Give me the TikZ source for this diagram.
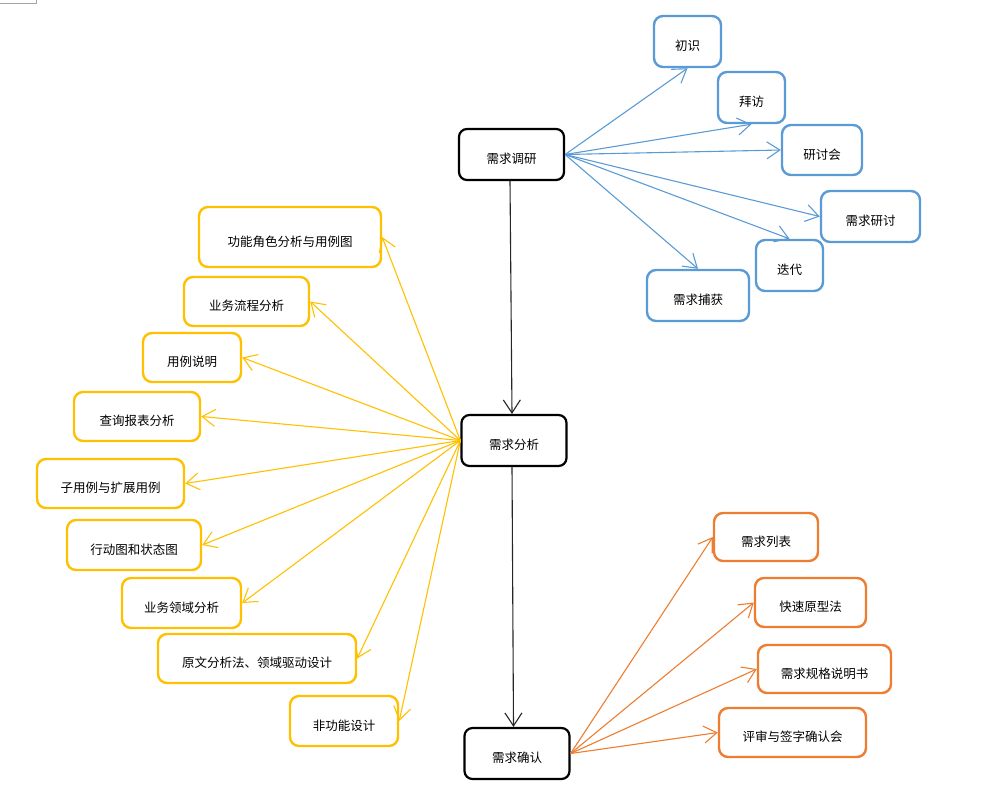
\documentclass[tikz,border=0pt]{standalone}
\usepackage{fontspec}
\setmainfont{Noto Sans CJK SC}
\usetikzlibrary{arrows.meta}
\definecolor{cblue}{HTML}{5B9BD5}
\definecolor{cyel}{HTML}{FFC000}
\definecolor{corg}{HTML}{ED7D31}
\tikzset{
  box/.style={draw, fill=white, rounded corners=9pt, inner sep=0pt,
    font=\fontsize{12.5}{15}\selectfont, text height=18.5pt, text depth=0pt},
  bbox/.style={box, line width=2.2pt, draw=black, rounded corners=8pt, minimum width=105pt, minimum height=51pt},
  bluebox/.style={box, line width=2.4pt, draw=cblue},
  yelbox/.style={box, line width=2.4pt, draw=cyel},
  orgbox/.style={box, line width=2.4pt, draw=corg},
  arr/.style={-{Straight Barb[length=13pt,width=17pt]}, line width=1.1pt},
  barr/.style={arr, draw=black!85},
  bluearr/.style={arr, draw=cblue},
  yelarr/.style={arr, draw=cyel},
  orgarr/.style={arr, draw=corg},
}
\begin{document}
\begin{tikzpicture}[x=1pt,y=-1pt]
\useasboundingbox (0,0) rectangle (1000,807);
\draw[gray!70, line width=1pt] (0,3) -- (36,3) -- (36,0);

% main nodes
\node[bbox] (dy) at (511.5,154.5) {需求调研};
\node[bbox] (fx) at (514,440.5) {需求分析};
\node[bbox] (qr) at (517,753.5) {需求确认};

% blue
\node[bluebox, minimum width=67pt, minimum height=51pt] (cs) at (687.5,41.5) {初识};
\node[bluebox, minimum width=67pt, minimum height=51pt] (bf) at (751.5,97.5) {拜访};
\node[bluebox, minimum width=80pt, minimum height=50pt] (yth) at (822,150) {研讨会};
\node[bluebox, minimum width=99pt, minimum height=51pt] (xqyt) at (870.5,216.5) {需求研讨};
\node[bluebox, minimum width=67pt, minimum height=51pt] (dd) at (789.5,265.5) {迭代};
\node[bluebox, minimum width=102pt, minimum height=51pt] (bh) at (698,295.5) {需求捕获};

% yellow
\node[yelbox, minimum width=182pt, minimum height=60pt] (y1) at (290,237) {功能角色分析与用例图};
\node[yelbox, minimum width=125pt, minimum height=49pt] (y2) at (246.5,301.5) {业务流程分析};
\node[yelbox, minimum width=98pt, minimum height=49pt] (y3) at (192,357.5) {用例说明};
\node[yelbox, minimum width=126pt, minimum height=49pt] (y4) at (137,416.5) {查询报表分析};
\node[yelbox, minimum width=147pt, minimum height=49pt] (y5) at (110.5,483.5) {子用例与扩展用例};
\node[yelbox, minimum width=134pt, minimum height=50pt] (y6) at (134,545) {行动图和状态图};
\node[yelbox, minimum width=119pt, minimum height=50pt] (y7) at (181.5,603) {业务领域分析};
\node[yelbox, minimum width=198pt, minimum height=49pt] (y8) at (257,658.5) {原文分析法、领域驱动设计};
\node[yelbox, minimum width=108pt, minimum height=50pt] (y9) at (344,721) {非功能设计};

% orange
\node[orgbox, minimum width=104pt, minimum height=48pt] (o1) at (766,537) {需求列表};
\node[orgbox, minimum width=111pt, minimum height=49pt] (o2) at (810.5,602.5) {快速原型法};
\node[orgbox, minimum width=133pt, minimum height=48pt] (o3) at (824.5,669) {需求规格说明书};
\node[orgbox, minimum width=147pt, minimum height=49pt] (o4) at (792.5,732.5) {评审与签字确认会};

% black connectors
\draw[barr] ([xshift=-1.5pt]dy.south) -- ([xshift=-2pt]fx.north);
\draw[barr] ([xshift=-2pt]fx.south) -- ([xshift=-3.5pt]qr.north);

% blue connectors
\draw[bluearr] (dy.east) -- (cs.south);
\draw[bluearr] (dy.east) -- (bf.south);
\draw[bluearr] (dy.east) -- (yth.west);
\draw[bluearr] (dy.east) -- (xqyt.west);
\draw[bluearr] (dy.east) -- (dd.north);
\draw[bluearr] (dy.east) -- (bh.north);

% yellow connectors
\foreach \n in {y1,y2,y3,y4,y5,y6,y7,y8,y9}
  \draw[yelarr] (fx.west) -- (\n.east);

% orange connectors
\foreach \n in {o1,o2,o3,o4}
  \draw[orgarr] (qr.east) -- (\n.west);
\end{tikzpicture}
\end{document}
